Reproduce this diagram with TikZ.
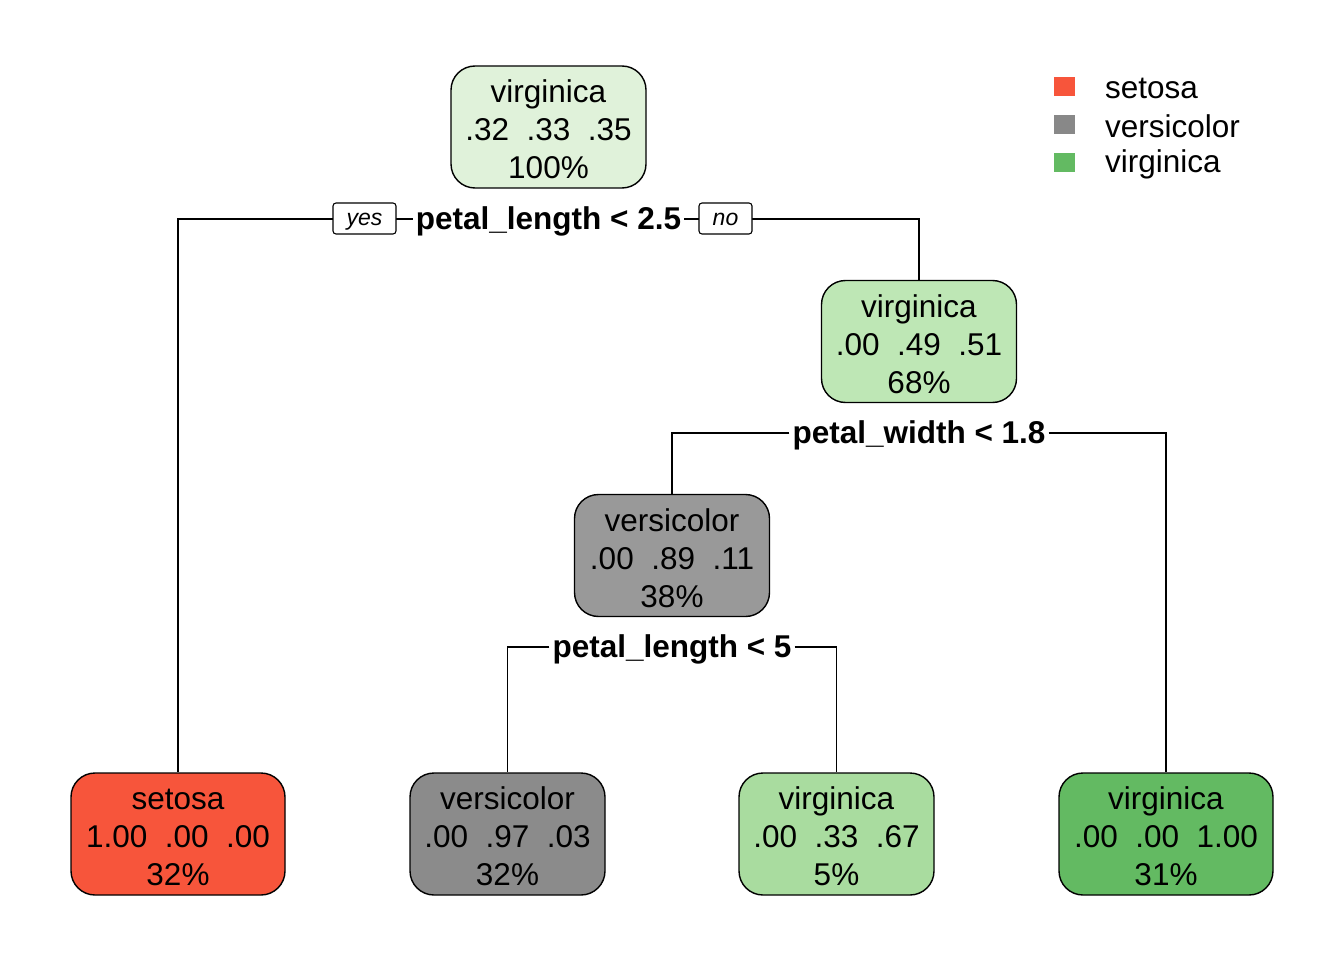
\documentclass[tikz,border=0pt]{standalone}
\usepackage{fontspec}
\setmainfont{Liberation Sans}
\definecolor{cset}{HTML}{F7553B}
\definecolor{cver}{HTML}{888888}
\definecolor{cvir}{HTML}{63BA62}
\definecolor{croot}{HTML}{E0F2DA}
\definecolor{cn2}{HTML}{BEE7B5}
\definecolor{cn3}{HTML}{999999}
\definecolor{cl2}{HTML}{8B8B8B}
\definecolor{cl3}{HTML}{A9DC9F}
\newcommand{\tnt}[3]{\raisebox{-6pt}[\height][\depth]{\begin{tabular}{@{}c@{}}#1\\#2\\#3\end{tabular}}}
\begin{document}
\begin{tikzpicture}[x=1pt,y=-1pt,
  treenode/.style={draw=black,line width=1.4pt,rounded corners=24pt,minimum height=122pt,
    inner sep=0pt,font=\fontsize{31.5}{38}\selectfont},
  narrow/.style={minimum width=195pt},
  wide/.style={minimum width=214pt},
  splitlab/.style={fill=white,inner xsep=3pt,inner ysep=3pt,text height=24pt,text depth=3pt,font=\fontsize{31.5}{38}\selectfont\bfseries},
  yn/.style={draw=black,line width=1.1pt,fill=white,rounded corners=3pt,minimum height=31pt,inner sep=0pt,text height=14pt,text depth=0pt,font=\fontsize{23}{28}\selectfont\itshape},
  conn/.style={line width=1.4pt},
  legsq/.style={fill=#1,minimum width=21pt,minimum height=19pt,inner sep=0pt},
  legtxt/.style={anchor=west,inner sep=0pt,font=\fontsize{31.5}{38}\selectfont}]
\useasboundingbox (0,0) rectangle (1344,960);
% nodes
\node[treenode,narrow,fill=croot] (root) at (548.5,127) {\tnt{virginica}{.32\ \ .33\ \ .35}{100\%}};
\node[treenode,narrow,fill=cn2] (n2) at (919,341.5) {\tnt{virginica}{.00\ \ .49\ \ .51}{68\%}};
\node[treenode,narrow,fill=cn3] (n3) at (672,555.5) {\tnt{versicolor}{.00\ \ .89\ \ .11}{38\%}};
\node[treenode,wide,fill=cset] (l1) at (178,834) {\tnt{setosa}{1.00\ \ .00\ \ .00}{32\%}};
\node[treenode,narrow,fill=cl2] (l2) at (507.5,834) {\tnt{versicolor}{.00\ \ .97\ \ .03}{32\%}};
\node[treenode,narrow,fill=cl3] (l3) at (836.5,834) {\tnt{virginica}{.00\ \ .33\ \ .67}{5\%}};
\node[treenode,wide,fill=cvir] (l4) at (1166,834) {\tnt{virginica}{.00\ \ .00\ \ 1.00}{31\%}};
% split labels
\node[splitlab] (s1) at (548.5,219) {petal\_length < 2.5};
\node[splitlab] (s2) at (919,433) {petal\_width < 1.8};
\node[splitlab] (s3) at (672,647) {petal\_length < 5};
% connectors
\draw[conn] (s1.west) -| (l1.north);
\draw[conn] (s1.east) -| (n2.north);
\draw[conn] (s2.west) -| (n3.north);
\draw[conn] (s2.east) -| (l4.north);
\draw[conn] (s3.west) -| (l2.north);
\draw[conn] (s3.east) -| (l3.north);
% yes / no
\node[yn,minimum width=63pt] (yes) at (364.5,218.5) {yes};
\node[yn,minimum width=53pt] (no) at (725.5,218.5) {no};
% legend
\node[legsq=cset] (q1) at (1064.5,86.5) {};
\node[legsq=cver] (q2) at (1064.5,125) {};
\node[legsq=cvir] (q3) at (1064.5,163) {};
\node[legtxt] (t1) at (1105,88) {setosa};
\node[legtxt] (t2) at (1105,126) {versicolor};
\node[legtxt] (t3) at (1105,164) {virginica};
\end{tikzpicture}
\end{document}
